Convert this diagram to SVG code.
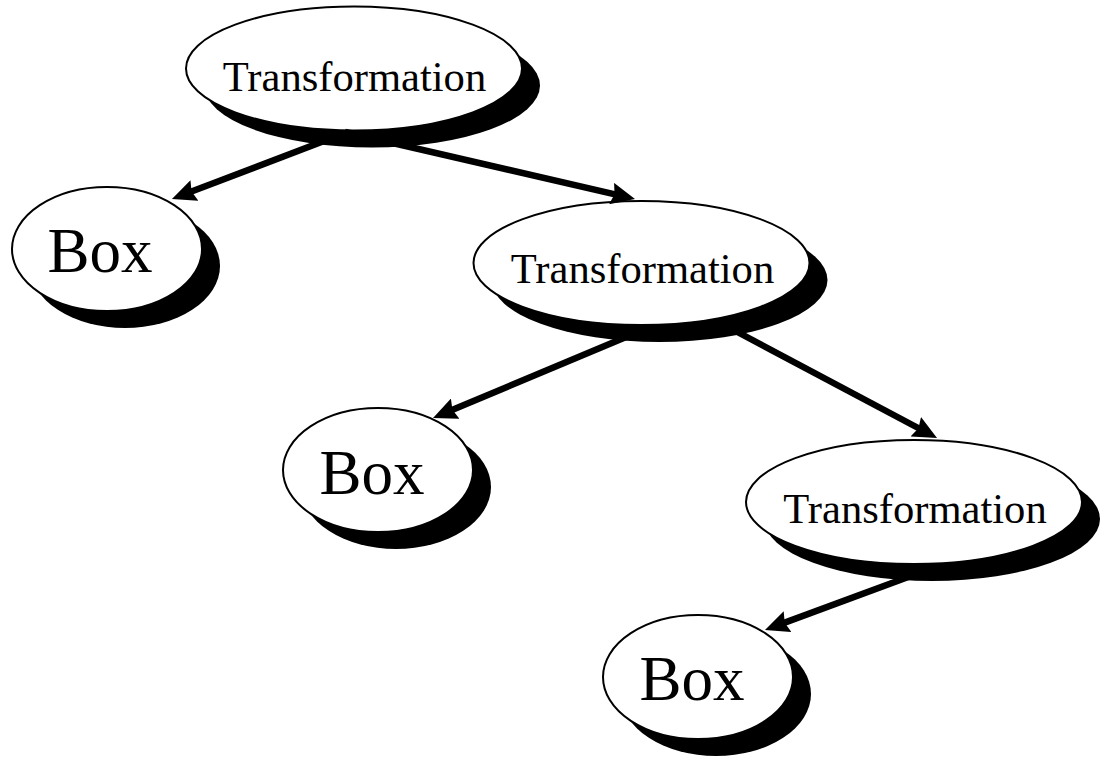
<svg xmlns="http://www.w3.org/2000/svg" width="1101" height="762" viewBox="0 0 1101 762">
  <style>
    .shadow { fill: #000; }
    .body { fill: #fff; stroke: #000; stroke-width: 2; }
    .label { font-family: "Liberation Serif", "Times New Roman", serif; fill: #000; text-anchor: middle; }
    .t { font-size: 42.6px; }
    .b { font-size: 63px; }
    .edge { stroke: #000; stroke-width: 6.5; fill: none; marker-end: url(#head); }
  </style>
  <defs>
    <marker id="head" markerUnits="userSpaceOnUse" markerWidth="24" markerHeight="22" refX="8" refY="11" orient="auto">
      <path d="M0,0 L24,11 L0,22 L3,11 Z" fill="#000"/>
    </marker>
  </defs>
  <rect width="1101" height="762" fill="#fff"/>

  <!-- nodes: white ellipse over a black drop shadow -->
  <g id="transform1">
    <ellipse class="shadow" cx="372" cy="85.5" rx="168" ry="62"/>
    <ellipse class="body" cx="354" cy="68.5" rx="168" ry="62"/>
    <text class="label t" x="354.5" y="91">Transformation</text>
  </g>
  <g id="box1">
    <ellipse class="shadow" cx="125" cy="266" rx="95" ry="62"/>
    <ellipse class="body" cx="107" cy="249" rx="95" ry="62"/>
    <text class="label b" x="100" y="272">Box</text>
  </g>
  <g id="transform2">
    <ellipse class="shadow" cx="659.5" cy="280" rx="168" ry="62"/>
    <ellipse class="body" cx="641.5" cy="263" rx="168" ry="62"/>
    <text class="label t" x="642.5" y="283">Transformation</text>
  </g>
  <g id="box2">
    <ellipse class="shadow" cx="396" cy="487" rx="95" ry="62"/>
    <ellipse class="body" cx="378" cy="470" rx="95" ry="62"/>
    <text class="label b" x="372" y="494">Box</text>
  </g>
  <g id="transform3">
    <ellipse class="shadow" cx="932" cy="519" rx="168" ry="62"/>
    <ellipse class="body" cx="914" cy="502" rx="168" ry="62"/>
    <text class="label t" x="915" y="523">Transformation</text>
  </g>
  <g id="box3">
    <ellipse class="shadow" cx="716" cy="694" rx="95" ry="62"/>
    <ellipse class="body" cx="698" cy="677" rx="95" ry="62"/>
    <text class="label b" x="692" y="700">Box</text>
  </g>

  <!-- connectors: line ends 16px short of each arrow tip, the marker supplies the rest -->
  <g id="connectors">
    <line class="edge" x1="345" y1="133" x2="186.9" y2="193.3"/>
    <line class="edge" x1="345" y1="132" x2="619.4" y2="195.4"/>
    <line class="edge" x1="650" y1="327" x2="447.8" y2="411.8"/>
    <line class="edge" x1="728" y1="327" x2="922.9" y2="430.5"/>
    <line class="edge" x1="938" y1="566" x2="780.0" y2="624.4"/>
  </g>
</svg>
